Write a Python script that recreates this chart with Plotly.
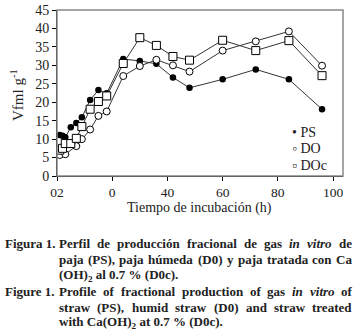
import plotly.graph_objects as go

t_ps = [1, 2, 3, 5, 7, 9, 12, 15, 18, 24, 30, 36, 42, 48, 60, 72, 84, 96]
ps = [11.1, 10.9, 10.5, 13.2, 14.4, 15.9, 20.6, 23.3, 22.4, 31.7, 31.2, 30.4, 26.7, 23.9, 26.2, 28.9, 26.2, 18.1]

t_do = [1, 3, 7, 9, 12, 15, 18, 24, 30, 36, 42, 48, 60, 72, 84, 96]
do = [5.7, 5.9, 8.1, 10.0, 12.6, 16.3, 17.5, 27.1, 29.8, 31.5, 30.0, 28.3, 34.0, 36.5, 39.2, 29.9]

t_doc = [1, 2, 3, 5, 7, 9, 12, 15, 18, 24, 30, 36, 42, 48, 60, 72, 84, 96]
doc = [7.0, 7.5, 8.8, 8.8, 10.2, 13.4, 18.1, 20.2, 21.7, 30.5, 37.5, 35.4, 32.4, 31.4, 36.8, 34.0, 36.7, 27.2]

series_names = ["PS", "DO", "DOc"]
legend_glyphs = ["•", "◦", "▫"]
x_tickvals = [0, 20, 40, 60, 80, 100]
x_ticktext = ["02", "0", "40", "60", "80", "100"]
y_tickvals = [0, 5, 10, 15, 20, 25, 30, 35, 40, 45]

x_title = "Tiempo de incubación (h)"
y_title = "Vfml g<sup>-1</sup>"

# caption: (label, [justified lines], last line); "*" marks italic words
caption = [
    ("Figura 1.", [
        "Perfil de producción fracional de gas *in *vitro de",
        "paja (PS), paja húmeda (D0) y paja tratada con Ca",
    ], "(OH)<sub>2</sub> al 0.7 % (D0c)."),
    ("Figure 1.", [
        "Profile of fractional production of gas *in *vitro of",
        "straw (PS), humid straw (D0) and straw treated",
    ], "with Ca(OH)<sub>2</sub> at 0.7 % (D0c)."),
]

# Times-Bold / Bold-Italic advance widths (per 1000 em)
W_B = {' ': 250, '(': 333, ')': 333, '.': 250, ',': 250, '%': 1000,
       'A': 722, 'C': 722, 'D': 722, 'F': 611, 'P': 611, 'S': 556, 'O': 778,
       'a': 500, 'b': 556, 'c': 444, 'd': 556, 'e': 444, 'f': 333, 'g': 500,
       'h': 556, 'i': 278, 'j': 333, 'l': 278, 'm': 833, 'n': 556, 'o': 500,
       'p': 556, 'r': 444, 's': 389, 't': 333, 'u': 556, 'v': 500, 'w': 722,
       'y': 500, 'ó': 500, 'ú': 556}
for d in "0123456789":
    W_B[d] = 500
W_BI = {'i': 278, 'n': 556, 'v': 444, 't': 278, 'r': 389, 'o': 500}

FONT = "Liberation Serif"
LINE = "#333333"
TXT = "#222222"

W, H = 358, 331
ML, MR, MT, MB = 57, 15, 10, 155
PW, PH = W - ML - MR, H - MT - MB


def px(x):
    return (x - ML) / PW


def py(y):
    return (H - MB - y) / PH


fig = go.Figure()
styles = [
    dict(symbol="circle", size=6.5, color="black"),
    dict(symbol="circle", size=7, color="white", line=dict(color="black", width=1)),
    dict(symbol="square", size=8, color="white", line=dict(color="black", width=1)),
]
for (tx, ys_, name, st) in zip([t_ps, t_do, t_doc], [ps, do, doc], series_names, styles):
    fig.add_trace(go.Scatter(x=tx, y=ys_, name=name, mode="lines+markers",
                             line=dict(color=LINE, width=1), marker=st,
                             showlegend=False))

fig.add_shape(type="rect", xref="paper", yref="paper", x0=0, y0=0, x1=1, y1=1,
              line=dict(color="#888888", width=1.5))

# legend (text keys inside the plot, bottom right)
for i, (g, name) in enumerate(zip(legend_glyphs, series_names)):
    fig.add_annotation(text=g + " " + name, xref="paper", yref="paper",
                       x=px(292), y=py(132 + 16.5 * i), xanchor="left", yanchor="middle",
                       showarrow=False, borderpad=0, borderwidth=0,
                       font=dict(family=FONT, size=14, color=TXT))

# titles
fig.add_annotation(text=x_title, xref="paper", yref="paper", x=px(199), y=py(208),
                   xanchor="center", yanchor="middle", showarrow=False,
                   font=dict(family=FONT, size=14, color=TXT))
fig.add_annotation(text=y_title, xref="paper", yref="paper", x=px(17), y=py(95),
                   xanchor="center", yanchor="middle", showarrow=False, textangle=-90,
                   font=dict(family=FONT, size=15, color=TXT))

CAP = 13
LAB, IND, RIGHT = 5, 59, 352
line_y = [[243, 259, 275], [291, 307, 322]]


def add_text(t, x, y, italic=False):
    if italic:
        t = "<i>" + t + "</i>"
    fig.add_annotation(text="<b>" + t + "</b>", xref="paper", yref="paper",
                       x=px(x), y=py(y), xanchor="left", yanchor="middle",
                       showarrow=False, borderpad=0, borderwidth=0,
                       font=dict(family=FONT, size=CAP, color=TXT))


for pi, (label, lines, last) in enumerate(caption):
    add_text(label, LAB, line_y[pi][0])
    for li, ln in enumerate(lines):
        yy = line_y[pi][li]
        items = []
        for w in ln.split(" "):
            it = w.startswith("*")
            w = w.lstrip("*")
            table = W_BI if it else W_B
            wid = sum(table.get(c, 500) for c in w) * CAP / 1000
            items.append((w, it, wid))
        total = sum(i[2] for i in items)
        gap = (RIGHT - IND - total) / (len(items) - 1)
        x = IND
        for w, it, wid in items:
            add_text(w, x, yy, it)
            x += wid + gap
    add_text(last, IND, line_y[pi][2])

fig.update_layout(
    width=W, height=H,
    margin=dict(l=ML, r=MR, t=MT, b=MB, autoexpand=False),
    paper_bgcolor="white", plot_bgcolor="white",
    font=dict(family=FONT, size=14, color=TXT),
    showlegend=False,
    xaxis=dict(range=[0, 103.6], tickvals=x_tickvals, ticktext=x_ticktext,
               showline=True, linecolor="black", linewidth=1, ticks="outside",
               ticklen=4, tickcolor="black", showgrid=False, zeroline=False,
               automargin=False, tickfont=dict(size=13.5)),
    yaxis=dict(range=[0, 45], tickvals=y_tickvals,
               showline=True, linecolor="black", linewidth=1, ticks="outside",
               ticklen=4, tickcolor="black", showgrid=False, zeroline=False,
               automargin=False, tickfont=dict(size=14)),
)

fig.write_html("out.html", config={"displayModeBar": False},
               post_script="document.body.style.margin='0';document.body.style.padding='0';")
